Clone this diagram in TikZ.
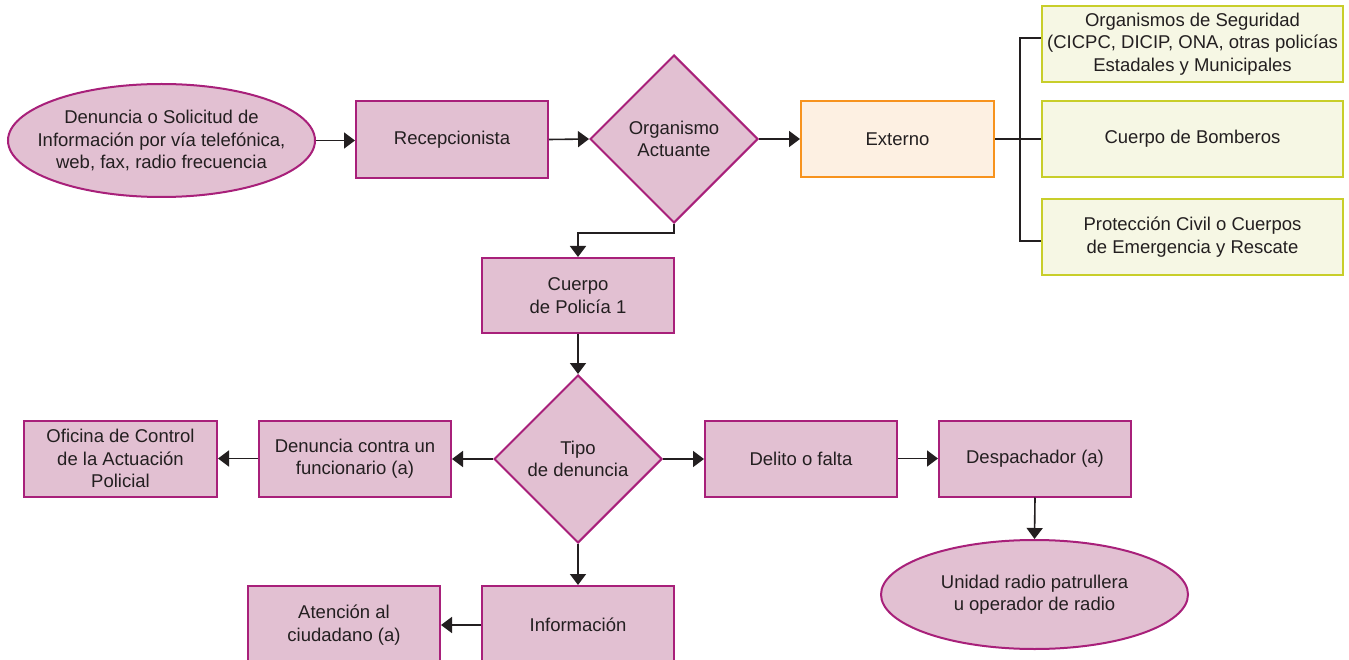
\documentclass[tikz,border=0pt]{standalone}
\usepackage{fontspec}
\setmainfont{Liberation Sans}
\usetikzlibrary{shapes.geometric,arrows.meta}
\definecolor{pinkfill}{HTML}{E2C0D2}
\definecolor{magborder}{HTML}{A8207A}
\definecolor{greenfill}{HTML}{F6F7E4}
\definecolor{greenborder}{HTML}{C8CE2A}
\definecolor{orangefill}{HTML}{FDF0E2}
\definecolor{orangeborder}{HTML}{F7931E}
\definecolor{textc}{HTML}{231F20}
\tikzset{
  base/.style={line width=2pt, inner sep=0pt, align=center, text=textc,
    font=\fontsize{18.5}{22.5}\selectfont},
  pbox/.style={base, rectangle, draw=magborder, fill=pinkfill,
    minimum width=192pt, minimum height=76pt},
  gbox/.style={base, rectangle, draw=greenborder, fill=greenfill,
    minimum width=301pt, minimum height=76pt},
  obox/.style={base, rectangle, draw=orangeborder, fill=orangefill,
    minimum width=193pt, minimum height=76pt},
  dbox/.style={base, diamond, aspect=1, draw=magborder, fill=pinkfill,
    minimum width=168pt, minimum height=168pt},
  ebox/.style={base, ellipse, draw=magborder, fill=pinkfill},
  lbl/.style={base, draw=none, fill=none},
  conn/.style={line width=1.6pt, draw=textc},
  arr/.style={conn, -{Triangle[length=11pt,width=16pt]}},
}
\begin{document}
\begin{tikzpicture}[x=1pt,y=-1pt]
\fill[white] (0,0) rectangle (1349,660);
\clip (0,0) rectangle (1349,660);
% top row
\node[ebox, minimum width=307pt, minimum height=113pt] (ell) at (161.5,140.5) {};
\node[lbl] (elltxt) at (ell.center) {Denuncia o Solicitud de\\Información por vía telefónica,\\web, fax, radio frecuencia};
\node[pbox, minimum height=77pt] (rec) at (452,139.5) {Recepcionista};
\node[dbox] (org) at (674,139) {Organismo\\Actuante};
\node[obox] (ext) at (897.5,139) {Externo};
\node[gbox] (g1) at (1192.5,44) {Organismos de Seguridad\\(CICPC, DICIP, ONA, otras policías\\Estadales y Municipales};
\node[gbox] (g2) at (1192.5,139) {Cuerpo de Bomberos};
\node[gbox] (g3) at (1192.5,237) {Protección Civil o Cuerpos\\de Emergencia y Rescate};
% middle
\node[pbox, minimum height=75pt] (cp) at (578,295.5) {Cuerpo\\de Policía 1};
\node[dbox] (tipo) at (578,459) {Tipo\\de denuncia};
\node[pbox] (delito) at (801,458.5) {Delito o falta};
\node[pbox] (desp) at (1035,458.5) {Despachador (a)};
\node[ebox, minimum width=307pt, minimum height=109pt] (unidad) at (1034.5,594.5) {};
\node[lbl] (unidadtxt) at (unidad.center) {Unidad radio patrullera\\u operador de radio};
\node[pbox] (denfun) at (355,458.5) {Denuncia contra un\\funcionario (a)};
\node[pbox, minimum width=193pt] (ofic) at (120.5,458.5) {Oficina de Control\\de la Actuación\\Policial};
% bottom (cut by the frame)
\node[pbox, minimum height=78pt] (info) at (578,625) {Información};
\node[pbox, minimum height=78pt] (aten) at (344,625) {Atención al\\ciudadano (a)};
% connectors
\draw[arr] (ell.east) -- (ell.east -| rec.west);
\draw[arr] (rec.east) -- (org.west);
\draw[arr] (org.east) -- (ext.west);
\draw[conn] (ext.east) -- (g2.west);
\coordinate (jtop) at (1020,38);
\coordinate (jbot) at (1020,241);
\draw[conn] (jtop -| g1.west) -- (jtop) -- (jbot) -- (jbot -| g3.west);
\draw[arr] (org.south) -- ++(0,9) -| (cp.north);
\draw[arr] (cp.south) -- (tipo.north);
\draw[arr] (tipo.east) -- (tipo.east -| delito.west);
\draw[arr] (delito.east) -- (desp.west);
\draw[arr] (desp.south) -- (unidad.north);
\draw[arr] (tipo.west) -- (tipo.west -| denfun.east);
\draw[arr] (denfun.west) -- (ofic.east);
\draw[arr] (tipo.south) -- (info.north);
\draw[arr] (info.west) -- (aten.east);
\end{tikzpicture}
\end{document}
